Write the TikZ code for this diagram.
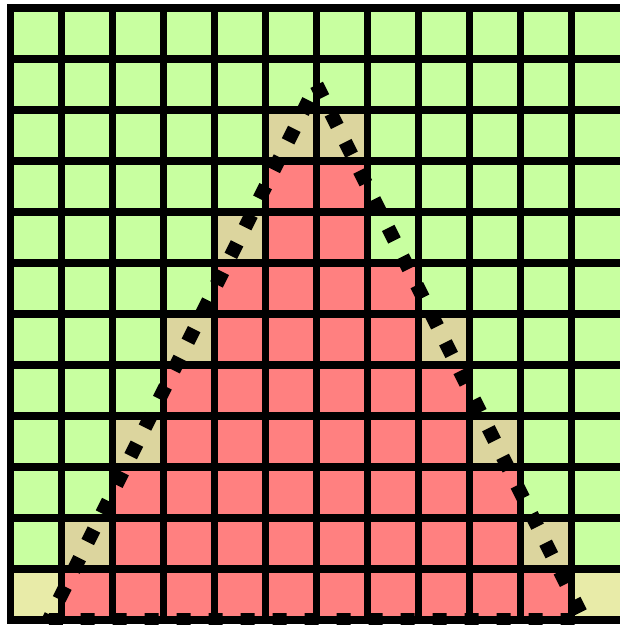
\documentclass[tikz,border=0pt]{standalone}
\definecolor{cgreen}{HTML}{C8FFA0}
\definecolor{cred}{HTML}{FF8080}
\definecolor{ctan}{HTML}{DCD59E}
\definecolor{cpale}{HTML}{E8EBA8}
\begin{document}
\begin{tikzpicture}[x=1cm,y=1cm,
  gridline/.style={line width=4.18pt, line cap=rect, black},
  edgeline/.style={line width=7.81pt, dash pattern=on 7.81pt off 10.04pt, black, line join=miter}]
\useasboundingbox (-0.206,-0.098) rectangle (11.951,12.157);
\clip (-0.206,-0.098) rectangle (11.951,12.157);
\fill[white] (-0.206,-0.098) rectangle (11.951,12.157);
\fill[cgreen] (0,0) rectangle (12.2,12);
\foreach \r/\a/\b in {0/1/10,1/2/9,2/2/9,3/3/8,4/3/8,5/4/7,6/4/7,7/5/6,8/5/6}
  \fill[cred] (\a,\r) rectangle (\b+1,\r+1);
\foreach \c/\r in {1/1,10/1,2/3,9/3,3/5,8/5,4/7,5/9,6/9}
  \fill[ctan] (\c,\r) rectangle (\c+1,\r+1);
\fill[cpale] (0,0) rectangle (1,1);
\fill[cpale] (11,0) rectangle (12.2,1);
\foreach \c in {0,...,11}
  \draw[gridline] (\c,0) -- (\c,12);
\foreach \r in {0,...,12}
  \draw[gridline] (0,\r) -- (12.2,\r);
\coordinate (bl) at (0.75,0);
\coordinate (br) at (11.25,0);
\coordinate (ap) at (6,10.5);
\draw[edgeline] (bl) -- (br) -- (ap) -- cycle;
\end{tikzpicture}
\end{document}
